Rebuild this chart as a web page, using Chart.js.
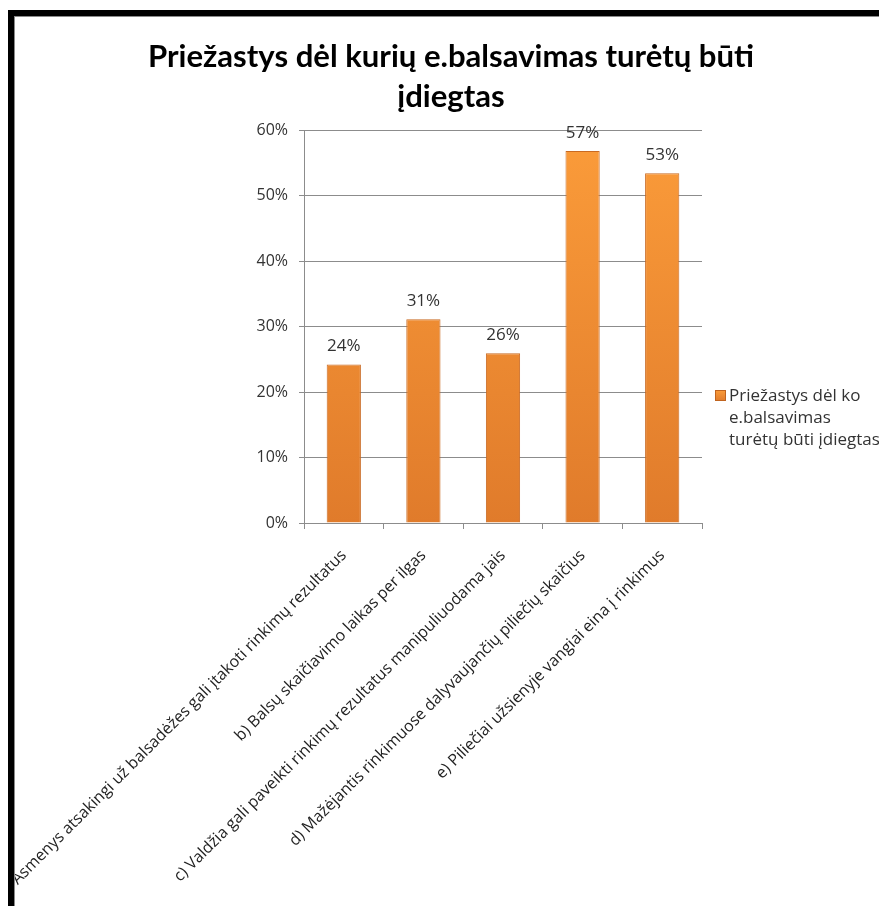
<!DOCTYPE html>
<html>
<head>
<meta charset="utf-8">
<script src="https://cdn.jsdelivr.net/npm/chart.js@4.4.1/dist/chart.umd.min.js"></script>
<style>
  html, body { margin: 0; padding: 0; background: #fff; overflow: hidden; }
  #wrap { position: absolute; left: 15px; top: 17px; width: 864px; height: 889px; overflow: hidden; }
  #myChart { position: absolute; left: -15px; top: -17px; }
  .bar-black { position: absolute; background: #000; }
  .bar-grey { position: absolute; background: #8a8a8a; }
</style>
</head>
<body>
<div id="wrap"><canvas id="myChart" width="879" height="906"></canvas></div>
<!-- ramelis aplink paveiksliuka -->
<div class="bar-black" style="left:8px;top:10px;width:871px;height:6px"></div>
<div class="bar-black" style="left:8px;top:10px;width:6px;height:896px"></div>
<div class="bar-grey" style="left:14px;top:16px;width:865px;height:1px"></div>
<div class="bar-grey" style="left:14px;top:16px;width:1px;height:890px"></div>
<script>
// Duomenys
const categories = [
    'a) Asmenys atsakingi už balsadėžes gali įtakoti rinkimų rezultatus',
    'b) Balsų skaičiavimo laikas per ilgas',
    'c) Valdžia gali paveikti rinkimų rezultatus manipuliuodama jais',
    'd) Mažėjantis rinkimuose dalyvaujančių piliečių skaičius',
    'e) Piliečiai užsienyje vangiai eina į rinkimus'
];
const values = [24.2, 31.1, 25.9, 56.8, 53.4];
const yTicks = [0, 10, 20, 30, 40, 50, 60];
const seriesLabel = 'Priežastys dėl ko e.balsavimas turėtų būti įdiegtas';
const legendLines = ['Priežastys dėl ko', 'e.balsavimas', 'turėtų būti įdiegtas'];
const titleLines = ['Priežastys dėl kurių e.balsavimas turėtų būti', 'įdiegtas'];

const FONT = '"Open Sans", "Liberation Sans", sans-serif';
const TITLE_FONT = 'Lato, "Liberation Sans", sans-serif';
Chart.defaults.font.family = FONT;

// pavadinimo sriftas parenkamas taip, kad pirma eilute butu ~607px plocio
const m = document.createElement('canvas').getContext('2d');
m.font = 'bold 100px ' + TITLE_FONT;
const titleSize = Math.round(100 * 607 / m.measureText(titleLines[0]).width * 10) / 10;

const ctx = document.getElementById('myChart').getContext('2d');

function barGradient(c, top, bottom) {
    const g = c.createLinearGradient(0, top, 0, bottom);
    g.addColorStop(0, '#fb9c3a');
    g.addColorStop(1, '#e07b2b');
    return g;
}

// uzrasai virs stulpeliu
const valueLabels = {
    id: 'valueLabels',
    afterDatasetsDraw(chart) {
        const c = chart.ctx;
        const meta = chart.getDatasetMeta(0);
        c.save();
        c.font = '17px ' + FONT;
        c.fillStyle = '#333';
        c.textAlign = 'center';
        c.textBaseline = 'alphabetic';
        meta.data.forEach((bar, i) => {
            c.fillText(Math.round(values[i]) + '%', bar.x, bar.y - 13);
        });
        c.restore();
    }
};

// legenda desineje (trys eilutes)
const sideLegend = {
    id: 'sideLegend',
    afterDraw(chart) {
        const c = chart.ctx;
        c.save();
        c.fillStyle = barGradient(c, 390, 401);
        c.fillRect(715, 390, 11, 11);
        c.strokeStyle = '#c0641f';
        c.lineWidth = 1;
        c.strokeRect(715.5, 390.5, 10, 10);
        c.font = '17px ' + FONT;
        c.fillStyle = '#333';
        c.textAlign = 'left';
        c.textBaseline = 'alphabetic';
        legendLines.forEach((t, i) => c.fillText(t, 729, 401 + i * 22));
        c.restore();
    }
};

let myChart = new Chart(ctx, {
    type: 'bar',
    data: {
        labels: categories,
        datasets: [{
            label: seriesLabel,
            data: values,
            backgroundColor: (context) => {
                const area = context.chart.chartArea;
                if (!area) return '#f28d30';
                return barGradient(context.chart.ctx, area.top, area.bottom);
            },
            borderColor: '#c96a22',
            borderWidth: 1,
            barPercentage: 0.43,
            categoryPercentage: 1
        }]
    },
    options: {
        responsive: false,
        animation: false,
        layout: { padding: { left: 140, right: 117, top: 0, bottom: 0 } },
        scales: {
            y: {
                min: 0,
                max: 60,
                afterBuildTicks(scale) {
                    scale.ticks = yTicks.map(v => ({ value: v }));
                },
                afterFit(scale) {
                    scale.width = 164;
                    scale.paddingTop = 0;
                    scale.paddingBottom = 0;
                },
                ticks: {
                    callback: (v) => v + '%',
                    color: '#333',
                    font: { size: 16 },
                    padding: 11
                },
                grid: { color: '#8c8c8c', tickLength: 5 },
                border: { color: '#8c8c8c' }
            },
            // tuscia asis desineje - vieta legendai
            yRight: {
                position: 'right',
                display: true,
                ticks: { display: false },
                grid: { display: false },
                border: { display: false },
                afterFit(scale) {
                    scale.width = 60;
                    scale.paddingTop = 0;
                    scale.paddingBottom = 0;
                }
            },
            x: {
                afterFit(scale) {
                    scale.height = 383;
                    scale.paddingLeft = 0;
                    scale.paddingRight = 0;
                },
                ticks: {
                    autoSkip: false,
                    maxRotation: 45,
                    minRotation: 45,
                    color: '#222',
                    font: { size: 16 },
                    labelOffset: 0,
                    padding: 17
                },
                grid: { color: '#8c8c8c', drawOnChartArea: false, tickLength: 6 },
                border: { color: '#8c8c8c' }
            }
        },
        plugins: {
            title: {
                display: true,
                text: titleLines,
                color: '#000',
                font: { family: TITLE_FONT, size: titleSize, weight: 'bold', lineHeight: '40px' },
                padding: { top: 37, bottom: 13 }
            },
            legend: { display: false },
            tooltip: { enabled: false }
        }
    },
    plugins: [valueLabels, sideLegend]
});
</script>
</body>
</html>
